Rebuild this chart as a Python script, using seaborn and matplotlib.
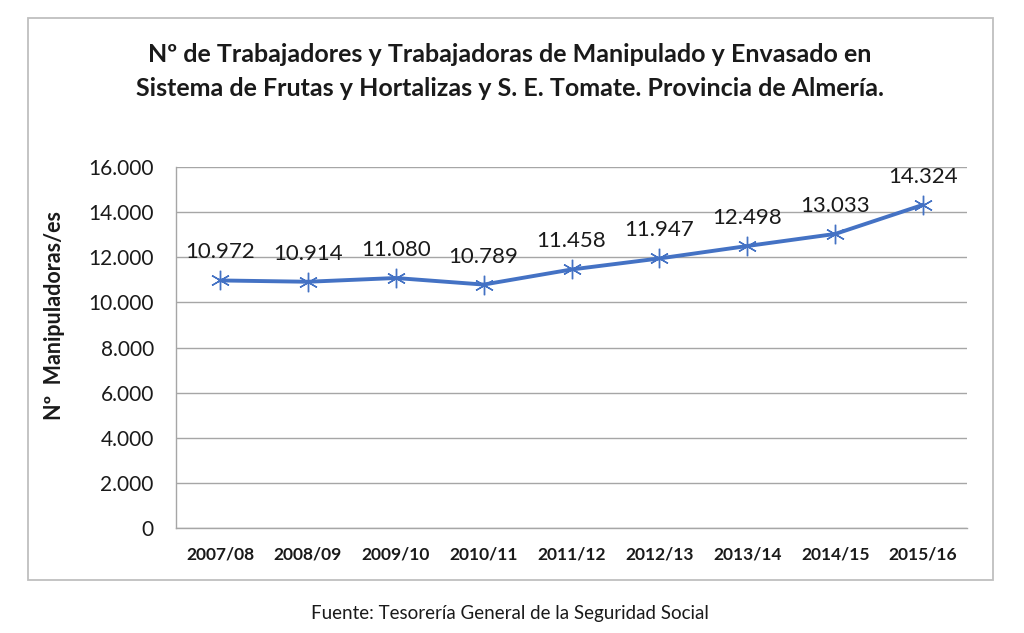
import matplotlib
matplotlib.use("Agg")
import matplotlib.pyplot as plt
import seaborn as sns
import pandas as pd
from matplotlib.patches import Rectangle

categories = ["2007/08", "2008/09", "2009/10", "2010/11", "2011/12",
              "2012/13", "2013/14", "2014/15", "2015/16"]
values = [10972, 10914, 11080, 10789, 11458, 11947, 12498, 13033, 14324]
labels = ["10.972", "10.914", "11.080", "10.789", "11.458",
          "11.947", "12.498", "13.033", "14.324"]
yticks = [0, 2000, 4000, 6000, 8000, 10000, 12000, 14000, 16000]
ytick_labels = ["0", "2.000", "4.000", "6.000", "8.000", "10.000",
                "12.000", "14.000", "16.000"]

sns.set_theme(style="white")
plt.rcParams['font.family'] = ['Lato', 'DejaVu Sans']

df = pd.DataFrame({"cat": categories, "val": values})
df["x"] = range(len(categories))

fig = plt.figure(figsize=(10.24, 6.33), dpi=100)
ax = fig.add_axes([176/1024, 1-528/633, (967-176)/1024, (528-167)/633])

# outer box
fig.patches.append(Rectangle((28/1024, 1-580/633), (993-28)/1024, (580-18)/633,
                             transform=fig.transFigure, fill=False,
                             edgecolor="#bfbfbf", linewidth=1.3))

sns.lineplot(data=df, x="x", y="val", ax=ax, color="#4472C4", linewidth=2.8,
             marker=(6, 2, 0), markersize=14, markeredgecolor="#4472C4",
             markeredgewidth=1.0)

for xi, v, lab in zip(df["x"], values, labels):
    ax.annotate(lab, (xi, v), xytext=(0, 13), textcoords="offset points",
                ha="center", va="bottom", fontsize=16, color="#1a1a1a")

ax.set_xlim(-0.5, len(categories) - 0.5)
ax.set_ylim(0, 16000)
ax.set_yticks(yticks)
ax.set_yticklabels(ytick_labels, fontsize=15, color="#1a1a1a")
ax.set_xticks(df["x"])
ax.set_xticklabels(categories, fontsize=12.5, fontweight="bold", color="#1a1a1a")
ax.tick_params(axis="y", length=0, pad=16)
ax.tick_params(axis="x", length=0, pad=13)
ax.grid(axis="y", color="#a6a6a6", linewidth=1)
ax.set_axisbelow(True)
for s in ["top", "right"]:
    ax.spines[s].set_visible(False)
for s in ["left", "bottom"]:
    ax.spines[s].set_color("#a6a6a6")
    ax.spines[s].set_linewidth(1)
ax.set_xlabel("")
ax.set_ylabel("Nº  Manipuladoras/es", fontsize=15.5, fontweight="bold",
              color="#1a1a1a")
ax.yaxis.set_label_coords((65 - 176) / 791, 0.59)

fig.text(510/1024, 1-55/633,
         "Nº de Trabajadores y Trabajadoras de Manipulado y Envasado en",
         ha="center", va="center", fontsize=18, fontweight="bold", color="#1a1a1a")
fig.text(510/1024, 1-89/633,
         "Sistema de Frutas y Hortalizas y S. E. Tomate. Provincia de Almería.",
         ha="center", va="center", fontsize=18, fontweight="bold", color="#1a1a1a")

fig.text(510/1024, 1-613/633, "Fuente: Tesorería General de la Seguridad Social",
         ha="center", va="center", fontsize=13.5, color="#1a1a1a")

fig.savefig("out.png", dpi=100)
